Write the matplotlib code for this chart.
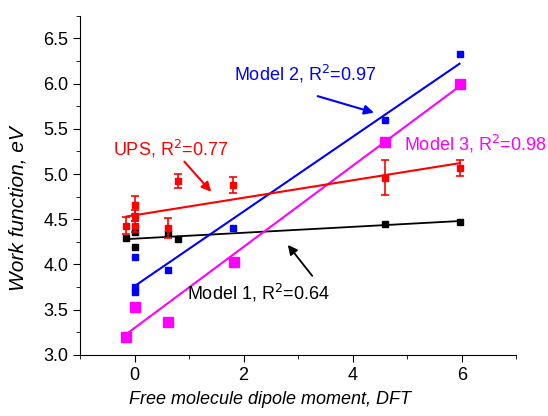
import matplotlib
matplotlib.use("Agg")
import matplotlib.pyplot as plt
from matplotlib.ticker import MultipleLocator

plt.rcParams["font.family"] = ["Liberation Sans", "DejaVu Sans"]

# data
model1_x = [-0.15, 0.0, 0.0, 0.62, 0.8, 4.59, 5.96]
model1_y = [4.29, 4.36, 4.19, 4.35, 4.28, 4.45, 4.47]
model2_x = [0.0, 0.0, 0.0, 0.62, 1.81, 4.59, 5.96]
model2_y = [4.08, 3.75, 3.70, 3.94, 4.40, 5.60, 6.33]
model3_x = [-0.15, 0.0, 0.62, 1.82, 4.59, 5.96]
model3_y = [3.20, 3.53, 3.36, 4.03, 5.35, 6.00]
ups_x = [-0.15, 0.0, 0.0, 0.0, 0.62, 0.8, 1.81, 4.59, 5.96]
ups_y = [4.43, 4.66, 4.54, 4.42, 4.40, 4.92, 4.88, 4.96, 5.07]
ups_err = [0.09, 0.10, 0.06, 0.06, 0.11, 0.08, 0.09, 0.19, 0.09]

# fit line end points
fit1_x, fit1_y = [-0.15, 5.96], [4.28, 4.48]
fit2_x, fit2_y = [0.0, 5.96], [3.76, 6.22]
fit3_x, fit3_y = [-0.15, 5.96], [3.23, 5.97]
fitu_x, fitu_y = [-0.15, 5.96], [4.53, 5.12]

fig = plt.figure(figsize=(5.48, 4.16), dpi=100)
ax = fig.add_axes([0.146, 0.147, 0.796, 0.815])

ax.plot(fit1_x, fit1_y, color="black", lw=1.3)
ax.plot(fit2_x, fit2_y, color="#0000ff", lw=1.5)
ax.plot(fit3_x, fit3_y, color="#ff00ff", lw=1.5)
ax.plot(fitu_x, fitu_y, color="#ff0000", lw=1.5)

ax.plot(model1_x, model1_y, "s", color="black", ms=5)
ax.plot(model2_x, model2_y, "s", color="#0000ff", ms=5)
ax.plot(model3_x, model3_y, "s", color="#ff00ff", ms=6.5)
ax.errorbar(ups_x, ups_y, yerr=ups_err, fmt="s", color="#ff0000", ms=5,
            capsize=3, elinewidth=1.2, capthick=1.2)

ax.set_xlim(-1, 7)
ax.set_ylim(3.0, 6.75)
ax.xaxis.set_minor_locator(MultipleLocator(1))
ax.yaxis.set_minor_locator(MultipleLocator(0.25))
ax.set_yticks([3.0, 3.5, 4.0, 4.5, 5.0, 5.5, 6.0, 6.5])
ax.set_yticklabels(["3.0", "3.5", "4.0", "4.5", "5.0", "5.5", "6.0", "6.5"])
ax.set_xticks([0, 2, 4, 6])
ax.spines["top"].set_visible(False)
ax.spines["right"].set_visible(False)
ax.tick_params(which="major", direction="out", length=5, labelsize=13)
ax.tick_params(which="minor", direction="out", length=3)

ax.set_xlabel("Free molecule dipole moment, DFT", fontsize=13, style="italic", va="center")
ax.set_ylabel("Work function, eV", fontsize=15, style="italic", va="center")
ax.xaxis.set_label_coords(0.436, -0.133)
ax.yaxis.set_label_coords(-0.142, 0.43)

ax.text(1.83, 6.03, "Model 2, R$^2$=0.97", color="#0000ff", fontsize=13)
ax.annotate("", xy=(4.44, 5.67), xytext=(3.31, 5.87),
            arrowprops=dict(arrowstyle="-|>", color="#0000ff", lw=1.5, mutation_scale=14))
ax.text(-0.40, 5.2, "UPS, R$^2$=0.77", color="#ff0000", fontsize=13)
ax.annotate("", xy=(1.44, 4.78), xytext=(0.88, 5.16),
            arrowprops=dict(arrowstyle="-|>", color="#ff0000", lw=1.5, mutation_scale=14))
ax.text(4.95, 5.26, "Model 3, R$^2$=0.98", color="#ff00ff", fontsize=13)
ax.text(0.97, 3.61, "Model 1, R$^2$=0.64", color="black", fontsize=13)
ax.annotate("", xy=(2.78, 4.24), xytext=(3.29, 3.85),
            arrowprops=dict(arrowstyle="-|>", color="black", lw=1.3, mutation_scale=14))

fig.savefig("out.png", dpi=100)
